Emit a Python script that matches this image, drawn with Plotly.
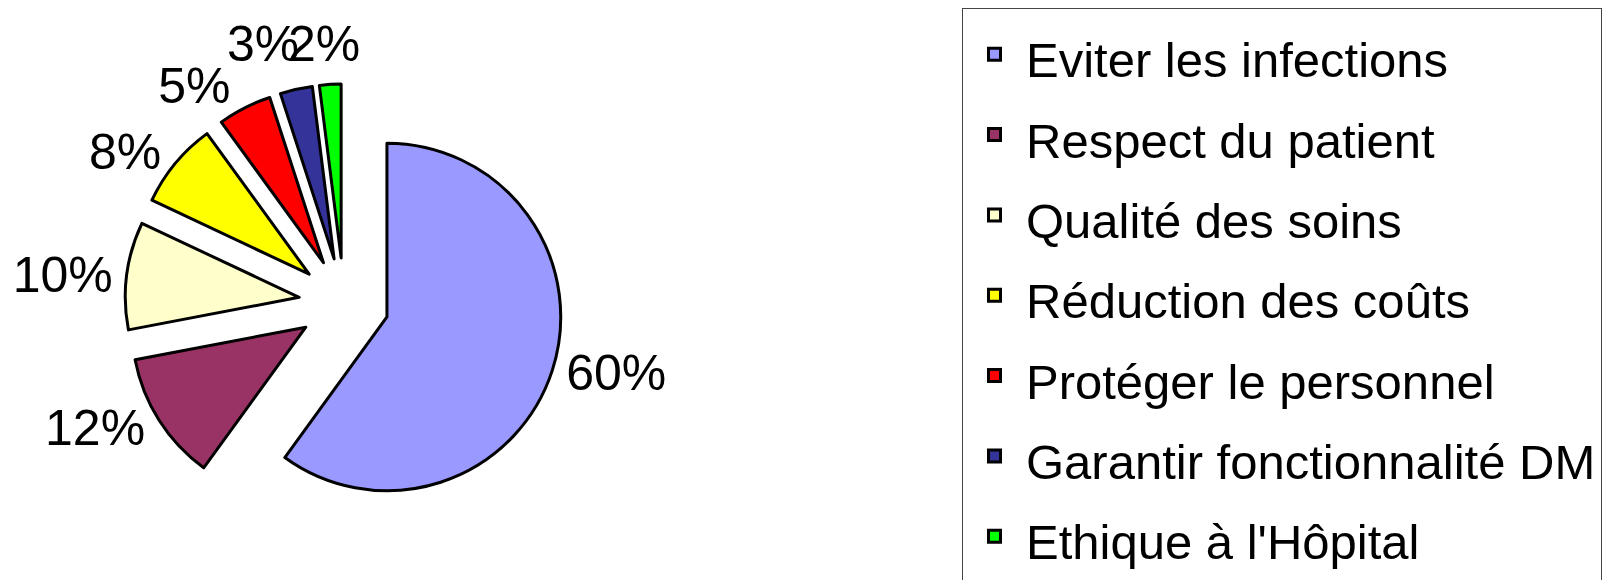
import plotly.graph_objects as go

labels = ["Eviter les infections", "Respect du patient", "Qualité des soins",
          "Réduction des coûts", "Protéger le personnel",
          "Garantir fonctionnalité DM", "Ethique à l'Hôpital"]
values = [60, 12, 10, 8, 5, 3, 2]
colors = ["#9999FF", "#993366", "#FFFFCC", "#FFFF00", "#FF0000", "#333399", "#00FF00"]

FONT = "Liberation Sans, Arial, sans-serif"

# legend text drawn at ~49px inside a taller legend line to get Excel-like spacing
legend_labels = ['<span style="font-size:49px">%s</span>' % s for s in labels]

total = sum(values)
pct = ["%d%%" % round(100 * v / total) for v in values]

# the two thinnest slices get their labels side by side at the top (as in Excel),
# plotly would otherwise stack them out of the figure
n_small = 2
slice_text = pct[:-n_small] + [""] * n_small

fig = go.Figure(go.Pie(
    labels=legend_labels,
    values=values,
    sort=False,
    direction="clockwise",
    rotation=0,
    pull=[0.26] * len(values),
    marker=dict(colors=colors, line=dict(color="black", width=3)),
    text=slice_text,
    textinfo="text",
    textposition="outside",
    textfont=dict(family=FONT, size=50, color="black"),
    domain=dict(x=[0.0724, 0.3434], y=[0.1138, 0.869]),
    hoverinfo="skip",
))

small_label_x = [255, 316]
for txt, xc in zip(pct[-n_small:], small_label_x):
    fig.add_annotation(
        text=txt, x=xc / 1616, y=1 - 36 / 580, xref="paper", yref="paper",
        xanchor="center", yanchor="middle", showarrow=False,
        font=dict(family=FONT, size=50, color="black"),
    )

fig.update_layout(
    width=1616, height=580,
    margin=dict(l=0, r=0, t=0, b=0, autoexpand=False),
    paper_bgcolor="white",
    plot_bgcolor="white",
    font=dict(family=FONT, color="black"),
    showlegend=True,
    legend=dict(
        x=954 / 1616, xanchor="left",
        y=1.0, yanchor="top",
        bgcolor="white",
        bordercolor="#444444", borderwidth=1,
        font=dict(family=FONT, size=59.5, color="black"),
        itemwidth=53,
        traceorder="normal",
    ),
)

fig.write_html("out.html")
